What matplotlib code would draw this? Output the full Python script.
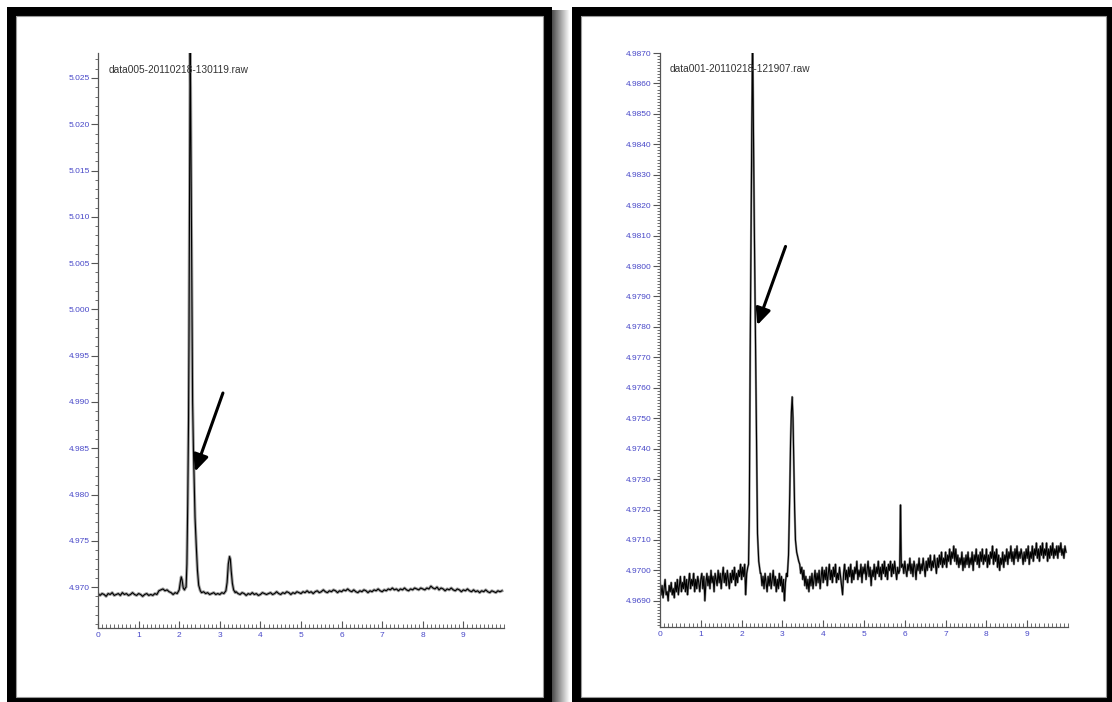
import numpy as np
import matplotlib.pyplot as plt
from matplotlib.patches import Rectangle
from matplotlib.ticker import MultipleLocator, FormatStrFormatter

# figure size in pixels
W, H = 1112, 702

# ---- left chromatogram: data005 ----
left_name = 'data005-20110218-130119.raw'
left_x = [0.00, 0.05, 0.10, 0.15, 0.20, 0.25, 0.30, 0.35, 0.40, 0.45,
          0.50, 0.55, 0.60, 0.65, 0.70, 0.75, 0.80, 0.85, 0.90, 0.95,
          1.00, 1.05, 1.10, 1.15, 1.20, 1.25, 1.30, 1.35, 1.40, 1.45,
          1.50, 1.55, 1.60, 1.65, 1.70, 1.75, 1.80, 1.85, 1.90, 1.95,
          2.00, 2.03, 2.05, 2.07, 2.10, 2.13, 2.15,
          2.17, 2.19, 2.21, 2.23, 2.24, 2.25, 2.26, 2.27, 2.28, 2.29, 2.30,
          2.31, 2.32, 2.33, 2.35, 2.37, 2.39, 2.42, 2.45, 2.48, 2.52,
          2.55, 2.60, 2.65, 2.70, 2.75, 2.80, 2.85, 2.90, 2.95, 3.00,
          3.05, 3.10, 3.15,
          3.18, 3.21, 3.24, 3.26, 3.28, 3.31, 3.34, 3.38,
          3.40, 3.45, 3.50, 3.55, 3.60, 3.65, 3.70, 3.75, 3.80, 3.85,
          3.90, 3.95, 4.00, 4.05, 4.10, 4.15, 4.20, 4.25, 4.30, 4.35,
          4.40, 4.45, 4.50, 4.55, 4.60, 4.65, 4.70, 4.75, 4.80, 4.85,
          4.90, 4.95,
          5.00, 5.05, 5.10, 5.15, 5.20, 5.25, 5.30, 5.35, 5.40, 5.45,
          5.50, 5.55, 5.60, 5.65, 5.70, 5.75, 5.80, 5.85, 5.90, 5.95,
          6.00, 6.05, 6.10, 6.15, 6.20, 6.25, 6.30, 6.35, 6.40, 6.45,
          6.50, 6.55, 6.60, 6.65, 6.70, 6.75, 6.80, 6.85, 6.90, 6.95,
          7.00, 7.05, 7.10, 7.15, 7.20, 7.25, 7.30, 7.35, 7.40, 7.45,
          7.50, 7.55, 7.60, 7.65, 7.70, 7.75, 7.80, 7.85, 7.90, 7.95,
          8.00, 8.05, 8.10, 8.15, 8.20, 8.25, 8.30, 8.35, 8.40, 8.45,
          8.50, 8.55, 8.60, 8.65, 8.70, 8.75, 8.80, 8.85, 8.90, 8.95,
          9.00, 9.05, 9.10, 9.15, 9.20, 9.25, 9.30, 9.35, 9.40, 9.45,
          9.50, 9.55, 9.60, 9.65, 9.70, 9.75, 9.80, 9.85, 9.90, 9.95]
left_y = [4.9693, 4.9691, 4.9693, 4.9692, 4.9690, 4.9693, 4.9692, 4.9694, 4.9691, 4.9692,
          4.9693, 4.9691, 4.9694, 4.9692, 4.9693, 4.9691, 4.9692, 4.9694, 4.9692, 4.9691,
          4.9693, 4.9692, 4.9690, 4.9692, 4.9693, 4.9691, 4.9692, 4.9691, 4.9693, 4.9692,
          4.9696, 4.9697, 4.9698, 4.9696, 4.9697, 4.9695, 4.9694, 4.9692, 4.9694, 4.9693,
          4.9697, 4.9706, 4.9711, 4.9708, 4.9699, 4.9697, 4.9699,
          4.9700, 4.9725, 4.9790, 4.9880, 4.9960, 5.0070, 5.0180, 5.0285, 5.0240, 5.0170, 5.0100,
          5.0040, 4.9960, 4.9900, 4.9850, 4.9810, 4.9775, 4.9745, 4.9718, 4.9702, 4.9696,
          4.9694, 4.9695, 4.9693, 4.9694, 4.9692, 4.9693, 4.9694, 4.9692, 4.9693, 4.9692,
          4.9694, 4.9693, 4.9696,
          4.9705, 4.9725, 4.9733, 4.9730, 4.9718, 4.9704, 4.9697, 4.9694,
          4.9695, 4.9693, 4.9692, 4.9694, 4.9693, 4.9691, 4.9693, 4.9692, 4.9694, 4.9692,
          4.9693, 4.9691, 4.9692, 4.9694, 4.9693, 4.9692, 4.9693, 4.9694, 4.9692, 4.9693,
          4.9695, 4.9693, 4.9692, 4.9694, 4.9693, 4.9695, 4.9694, 4.9692, 4.9694, 4.9693,
          4.9695, 4.9694,
          4.9693, 4.9695, 4.9694, 4.9696, 4.9694, 4.9695, 4.9693, 4.9695, 4.9696, 4.9694,
          4.9695, 4.9697, 4.9695, 4.9694, 4.9696, 4.9695, 4.9697, 4.9696, 4.9694, 4.9696,
          4.9695, 4.9697, 4.9696, 4.9698, 4.9696, 4.9695, 4.9697, 4.9695, 4.9694, 4.9696,
          4.9695, 4.9697, 4.9696, 4.9694, 4.9696, 4.9695, 4.9697, 4.9696, 4.9698, 4.9696,
          4.9695, 4.9697, 4.9696, 4.9698, 4.9697, 4.9699, 4.9697, 4.9698, 4.9696, 4.9698,
          4.9697, 4.9699, 4.9697, 4.9696, 4.9698, 4.9697, 4.9699, 4.9698, 4.9697, 4.9699,
          4.9698, 4.9697, 4.9699, 4.9698, 4.9701, 4.9699, 4.9698, 4.9700, 4.9697, 4.9699,
          4.9698, 4.9696, 4.9698, 4.9697, 4.9699, 4.9697, 4.9696, 4.9698, 4.9697, 4.9695,
          4.9697, 4.9696, 4.9698, 4.9696, 4.9695, 4.9697, 4.9695, 4.9696, 4.9694, 4.9696,
          4.9695, 4.9697, 4.9695, 4.9694, 4.9696, 4.9695, 4.9694, 4.9696, 4.9695, 4.9696]

# ---- right chromatogram: data001 ----
right_name = 'data001-20110218-121907.raw'
right_x = [0.000, 0.025, 0.050, 0.075, 0.100, 0.125, 0.150, 0.175,
           0.200, 0.225, 0.250, 0.275, 0.300, 0.325, 0.350, 0.375,
           0.400, 0.425, 0.450, 0.475, 0.500, 0.525, 0.550, 0.575,
           0.600, 0.625, 0.650, 0.675, 0.700, 0.725, 0.750, 0.775,
           0.800, 0.825, 0.850, 0.875, 0.900, 0.925, 0.950, 0.975,
           1.000, 1.025, 1.050, 1.075, 1.100, 1.125, 1.150, 1.175,
           1.200, 1.225, 1.250, 1.275, 1.300, 1.325, 1.350, 1.375,
           1.400, 1.425, 1.450, 1.475, 1.500, 1.525, 1.550, 1.575,
           1.600, 1.625, 1.650, 1.675, 1.700, 1.725, 1.750, 1.775,
           1.800, 1.825, 1.850, 1.875, 1.900, 1.925, 1.950, 1.975,
           2.000, 2.025, 2.050, 2.075, 2.100, 2.125, 2.150,
           2.17, 2.19, 2.21, 2.23, 2.25, 2.27, 2.29, 2.31, 2.33, 2.35,
           2.37, 2.39, 2.42, 2.46,
           2.475, 2.500, 2.525, 2.550, 2.575, 2.600, 2.625, 2.650,
           2.675, 2.700, 2.725, 2.750, 2.775, 2.800, 2.825, 2.850,
           2.875, 2.900, 2.925, 2.950, 2.975, 3.000, 3.025, 3.050,
           3.075, 3.100,
           3.12, 3.15, 3.18, 3.20, 3.22, 3.24, 3.26, 3.28, 3.30, 3.32,
           3.35, 3.40,
           3.425, 3.450, 3.475, 3.500, 3.525, 3.550, 3.575, 3.600,
           3.625, 3.650, 3.675, 3.700, 3.725, 3.750, 3.775, 3.800,
           3.825, 3.850, 3.875, 3.900, 3.925, 3.950, 3.975, 4.000,
           4.025, 4.050, 4.075, 4.100, 4.125, 4.150, 4.175, 4.200,
           4.225, 4.250, 4.275, 4.300, 4.325, 4.350, 4.375, 4.400,
           4.425, 4.450, 4.475, 4.500, 4.525, 4.550, 4.575, 4.600,
           4.625, 4.650, 4.675, 4.700, 4.725, 4.750, 4.775, 4.800,
           4.825, 4.850, 4.875, 4.900, 4.925, 4.950, 4.975, 5.000,
           5.025, 5.050, 5.075, 5.100, 5.125, 5.150, 5.175, 5.200,
           5.225, 5.250, 5.275, 5.300, 5.325, 5.350, 5.375, 5.400,
           5.425, 5.450, 5.475, 5.500, 5.525, 5.550, 5.575, 5.600,
           5.625, 5.650, 5.675, 5.700, 5.725, 5.750, 5.775, 5.800,
           5.825, 5.850,
           5.875, 5.895, 5.915,
           5.950, 5.975, 6.000, 6.025, 6.050, 6.075, 6.100, 6.125,
           6.150, 6.175, 6.200, 6.225, 6.250, 6.275, 6.300, 6.325,
           6.350, 6.375, 6.400, 6.425, 6.450, 6.475, 6.500, 6.525,
           6.550, 6.575, 6.600, 6.625, 6.650, 6.675, 6.700, 6.725,
           6.750, 6.775, 6.800, 6.825, 6.850, 6.875, 6.900, 6.925,
           6.950, 6.975, 7.000, 7.025, 7.050, 7.075, 7.100, 7.125,
           7.150, 7.175, 7.200, 7.225, 7.250, 7.275, 7.300, 7.325,
           7.350, 7.375, 7.400, 7.425, 7.450, 7.475, 7.500, 7.525,
           7.550, 7.575, 7.600, 7.625, 7.650, 7.675, 7.700, 7.725,
           7.750, 7.775, 7.800, 7.825, 7.850, 7.875, 7.900, 7.925,
           7.950, 7.975, 8.000, 8.025, 8.050, 8.075, 8.100, 8.125,
           8.150, 8.175, 8.200, 8.225, 8.250, 8.275, 8.300, 8.325,
           8.350, 8.375, 8.400, 8.425, 8.450, 8.475, 8.500, 8.525,
           8.550, 8.575, 8.600, 8.625, 8.650, 8.675, 8.700, 8.725,
           8.750, 8.775, 8.800, 8.825, 8.850, 8.875, 8.900, 8.925,
           8.950, 8.975, 9.000, 9.025, 9.050, 9.075, 9.100, 9.125,
           9.150, 9.175, 9.200, 9.225, 9.250, 9.275, 9.300, 9.325,
           9.350, 9.375, 9.400, 9.425, 9.450, 9.475, 9.500, 9.525,
           9.550, 9.575, 9.600, 9.625, 9.650, 9.675, 9.700, 9.725,
           9.750, 9.775, 9.800, 9.825, 9.850, 9.875, 9.900, 9.925,
           9.950]
right_y = [4.9696, 4.9692, 4.9695, 4.9691, 4.9694, 4.9697, 4.9692, 4.9693,
           4.9690, 4.9695, 4.9693, 4.9696, 4.9692, 4.9694, 4.9691, 4.9696,
           4.9693, 4.9697, 4.9692, 4.9695, 4.9698, 4.9693, 4.9696, 4.9694,
           4.9698, 4.9693, 4.9697, 4.9692, 4.9696, 4.9699, 4.9694, 4.9697,
           4.9695, 4.9699, 4.9693, 4.9697, 4.9694, 4.9698, 4.9696, 4.9693,
           4.9697, 4.9699, 4.9694, 4.9698, 4.9690, 4.9696, 4.9699, 4.9695,
           4.9698, 4.9694, 4.9700, 4.9696, 4.9698, 4.9693, 4.9699, 4.9697,
           4.9695, 4.9700, 4.9696, 4.9699, 4.9694, 4.9698, 4.9701, 4.9696,
           4.9699, 4.9695, 4.9700, 4.9697, 4.9694, 4.9699, 4.9696, 4.9700,
           4.9697, 4.9701, 4.9695, 4.9699, 4.9696, 4.9700, 4.9698, 4.9702,
           4.9697, 4.9701, 4.9698, 4.9702, 4.9692, 4.9699, 4.9701,
           4.9702, 4.9720, 4.9770, 4.9810, 4.9845, 4.9875, 4.9845, 4.9815, 4.9790, 4.9765,
           4.9740, 4.9712, 4.9703, 4.9699,
           4.9699, 4.9695, 4.9698, 4.9694, 4.9699, 4.9696, 4.9693, 4.9698,
           4.9695, 4.9699, 4.9694, 4.9697, 4.9700, 4.9695, 4.9698, 4.9693,
           4.9697, 4.9694, 4.9699, 4.9695, 4.9698, 4.9693, 4.9697, 4.9690,
           4.9696, 4.9699,
           4.9698, 4.9705, 4.9725, 4.9742, 4.9752, 4.9757, 4.9750, 4.9735, 4.9720, 4.9710,
           4.9706, 4.9703,
           4.9702, 4.9699, 4.9701, 4.9697, 4.9700, 4.9695, 4.9698, 4.9694,
           4.9697, 4.9693, 4.9698, 4.9695, 4.9699, 4.9694, 4.9697, 4.9700,
           4.9695, 4.9699, 4.9696, 4.9700, 4.9694, 4.9698, 4.9701, 4.9696,
           4.9700, 4.9697, 4.9701, 4.9695, 4.9699, 4.9702, 4.9697, 4.9700,
           4.9696, 4.9701, 4.9698, 4.9702, 4.9696, 4.9699, 4.9697, 4.9701,
           4.9698, 4.9695, 4.9692, 4.9699, 4.9702, 4.9697, 4.9700, 4.9696,
           4.9701, 4.9698, 4.9702, 4.9696, 4.9700, 4.9697, 4.9701, 4.9699,
           4.9703, 4.9697, 4.9700, 4.9698, 4.9702, 4.9696, 4.9701, 4.9699,
           4.9702, 4.9697, 4.9700, 4.9703, 4.9698, 4.9701, 4.9695, 4.9700,
           4.9698, 4.9702, 4.9697, 4.9701, 4.9699, 4.9703, 4.9698, 4.9701,
           4.9697, 4.9702, 4.9699, 4.9703, 4.9698, 4.9701, 4.9697, 4.9702,
           4.9700, 4.9703, 4.9698, 4.9702, 4.9699, 4.9703, 4.9700, 4.9697,
           4.9701, 4.9699,
           4.9700, 4.97215, 4.9701,
           4.9702, 4.9699, 4.9703, 4.9700, 4.9698, 4.9702, 4.9700, 4.9704,
           4.9699, 4.9702, 4.9698, 4.9703, 4.9701, 4.9697, 4.9702, 4.9700,
           4.9704, 4.9699, 4.9702, 4.9700, 4.9704, 4.9701, 4.9698, 4.9703,
           4.9700, 4.9704, 4.9701, 4.9705, 4.9700, 4.9703, 4.9701, 4.9705,
           4.9702, 4.9699, 4.9704, 4.9701, 4.9705, 4.9702, 4.9706, 4.9701,
           4.9704, 4.9702, 4.9706, 4.9701, 4.9705, 4.9703, 4.9707, 4.9702,
           4.9706, 4.9704, 4.9708, 4.9703, 4.9707, 4.9702, 4.9705, 4.9701,
           4.9704, 4.9702, 4.9706, 4.9700, 4.9704, 4.9701, 4.9705, 4.9702,
           4.9706, 4.9701, 4.9704, 4.9702, 4.9706, 4.9700, 4.9705, 4.9703,
           4.9707, 4.9702, 4.9705, 4.9701, 4.9706, 4.9703, 4.9707, 4.9702,
           4.9705, 4.9703, 4.9707, 4.9701, 4.9705, 4.9702, 4.9706, 4.9704,
           4.9708, 4.9702, 4.9706, 4.9703, 4.9707, 4.9701, 4.9705, 4.9700,
           4.9704, 4.9702, 4.9706, 4.9701, 4.9705, 4.9703, 4.9707, 4.9702,
           4.9706, 4.9704, 4.9708, 4.9703, 4.9706, 4.9702, 4.9707, 4.9704,
           4.9708, 4.9703, 4.9706, 4.9704, 4.9707, 4.9705, 4.9702, 4.9706,
           4.9703, 4.9707, 4.9704, 4.9708, 4.9702, 4.9706, 4.9704, 4.9708,
           4.9703, 4.9707, 4.9705, 4.9709, 4.9704, 4.9707, 4.9703, 4.9708,
           4.9705, 4.9709, 4.9704, 4.9707, 4.9705, 4.9709, 4.9703, 4.9707,
           4.9704, 4.9708, 4.9705, 4.9709, 4.9704, 4.9707, 4.9705, 4.9708,
           4.9704, 4.9708, 4.9706, 4.9709, 4.9705, 4.9707, 4.9704, 4.9708,
           4.9706]

x_ticks = [0, 1, 2, 3, 4, 5, 6, 7, 8, 9]

fig = plt.figure(figsize=(W / 100, H / 100), dpi=100)
plt.rcParams['font.family'] = ['Liberation Sans', 'DejaVu Sans']


def px_box(x0, y0, x1, y1):
    # pixel box (top-left origin) -> figure fraction [left, bottom, width, height]
    return [x0 / W, 1 - y1 / H, (x1 - x0) / W, (y1 - y0) / H]


def add_rect(x0, y0, x1, y1, **kw):
    l, b, w, h = px_box(x0, y0, x1, y1)
    fig.patches.append(Rectangle((l, b), w, h, transform=fig.transFigure, **kw))


# shadow between the two frames
sh = fig.add_axes(px_box(552, 10, 570, 702))
sh.imshow(np.linspace(0.3, 1.0, 32)[None, :], cmap='gray', aspect='auto', vmin=0, vmax=1)
sh.axis('off')

# black picture frames
for (x0, y0, x1, y1) in [(7, 7, 552, 716), (572, 7, 1115, 716)]:
    add_rect(x0, y0, x1, y0 + 9, color='black', lw=0)
    add_rect(x0, y0, x0 + 9, y1, color='black', lw=0)
    add_rect(x1 - 9, y0, x1, y1, color='black', lw=0)
    add_rect(x0, 697, x1, y1, color='black', lw=0)
    add_rect(x0 + 9, y0 + 9, x1 - 9, 697, fill=False, ec='#9a9a9a', lw=0.8)

blue = '#4848c8'


def style_axes(ax, ylim, major, minor, fmt):
    ax.set_xlim(0, 10)
    ax.set_ylim(*ylim)
    ax.patch.set_alpha(0)
    for s in ['top', 'right']:
        ax.spines[s].set_visible(False)
    for s in ['left', 'bottom']:
        ax.spines[s].set_color('#555555')
        ax.spines[s].set_linewidth(0.9)
    ax.set_xticks(x_ticks)
    ax.xaxis.set_minor_locator(MultipleLocator(0.1))
    ax.yaxis.set_major_locator(MultipleLocator(major))
    ax.yaxis.set_minor_locator(MultipleLocator(minor))
    ax.yaxis.set_major_formatter(FormatStrFormatter(fmt))
    ax.tick_params(axis='x', which='major', direction='in', length=5, width=0.8,
                   color='#555555', labelcolor=blue, labelsize=6, pad=3)
    ax.tick_params(axis='x', which='minor', direction='in', length=3, width=0.6,
                   color='#555555')
    ax.tick_params(axis='y', which='major', direction='out', length=5, width=0.8,
                   color='#555555', labelcolor=blue, labelsize=6, pad=1)
    ax.tick_params(axis='y', which='minor', direction='out', length=2.5, width=0.6,
                   color='#555555')


# left chromatogram
ax1 = fig.add_axes(px_box(98, 53, 504, 628))
ax1.plot(left_x, left_y, color='#a0a0a0', lw=2.2)
ax1.plot(left_x, left_y, color='black', lw=0.8)
style_axes(ax1, (4.96558, 5.0277), 0.005, 0.001, '%.3f')
fig.text(109 / W, 1 - 70 / H, left_name, fontsize=7.3, color='#333333', va='center')
ax1.annotate('', xy=(2.365, 4.98219), xytext=(3.10, 4.99125),
             arrowprops=dict(arrowstyle='-|>,head_length=1.0,head_width=0.45',
                             color='black', lw=2.2))

# right chromatogram
ax2 = fig.add_axes(px_box(660, 53, 1068, 627))
ax2.plot(right_x, right_y, color='#909090', lw=1.6)
ax2.plot(right_x, right_y, color='black', lw=0.8)
style_axes(ax2, (4.96814, 4.9870), 0.001, 0.0001, '%.4f')
fig.text(670 / W, 1 - 69 / H, right_name, fontsize=7.3, color='#333333', va='center')
ax2.annotate('', xy=(2.36, 4.97797), xytext=(3.10, 4.98073),
             arrowprops=dict(arrowstyle='-|>,head_length=1.0,head_width=0.45',
                             color='black', lw=2.2))

fig.savefig('out.png', dpi=100)
